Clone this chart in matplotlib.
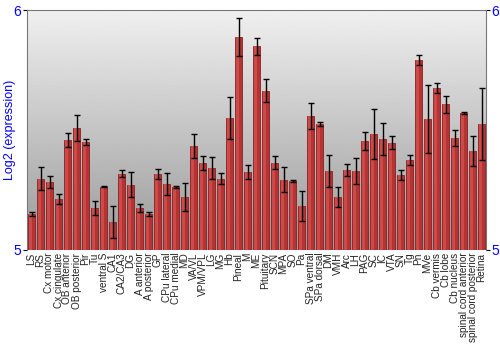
import numpy as np
import matplotlib.pyplot as plt

plt.rcParams['font.family'] = ['Liberation Sans', 'DejaVu Sans']

regions = ['LS', 'RS', 'Cx motor', 'Cx cingulate', 'OB anterior', 'OB posterior', 'Pir', 'Tu',
           'ventral S', 'CA1', 'CA2/CA3', 'DG', 'A anterior', 'A posterior', 'GP', 'CPu lateral',
           'CPu medial', 'MD', 'VA/VL', 'VPM/VPL', 'LG', 'MG', 'Hb', 'Pineal', 'M', 'ME',
           'Pituitary', 'SCN', 'MPA', 'SO', 'Pa', 'SPa ventral', 'SPa dorsal', 'DM', 'VMH', 'Arc',
           'LH', 'PAG', 'SC', 'IC', 'VTA', 'SN', 'Tg', 'Pn', 'MVe', 'Cb vermis', 'Cb lobe',
           'Cb nucleus', 'spinal cord anterior', 'spinal cord posterior', 'Retina']

expr = [5.150, 5.296, 5.283, 5.213, 5.458, 5.508, 5.450, 5.175, 5.263, 5.117, 5.317, 5.271,
        5.175, 5.150, 5.317, 5.275, 5.263, 5.221, 5.433, 5.363, 5.342, 5.296, 5.550, 5.888,
        5.325, 5.850, 5.663, 5.363, 5.292, 5.288, 5.183, 5.558, 5.525, 5.329, 5.221, 5.333,
        5.329, 5.454, 5.483, 5.463, 5.446, 5.313, 5.375, 5.792, 5.546, 5.675, 5.608, 5.467,
        5.571, 5.413, 5.525]

err = [0.010, 0.048, 0.025, 0.021, 0.029, 0.054, 0.013, 0.031, 0.002, 0.067, 0.015, 0.052,
       0.017, 0.010, 0.021, 0.044, 0.004, 0.058, 0.050, 0.029, 0.046, 0.023, 0.088, 0.081,
       0.029, 0.035, 0.048, 0.027, 0.052, 0.004, 0.063, 0.054, 0.010, 0.067, 0.042, 0.025,
       0.054, 0.038, 0.104, 0.067, 0.027, 0.021, 0.019, 0.021, 0.140, 0.021, 0.035, 0.033,
       0.006, 0.063, 0.152]

x = np.arange(len(regions))

fig = plt.figure(figsize=(5, 3.5), dpi=100)
ax = fig.add_axes([0.054, 0.286, 0.918, 0.685])

# grey gradient background
grad = np.linspace(0.94, 0.60, 256).reshape(-1, 1)
ax.imshow(grad, cmap='gray', vmin=0, vmax=1, aspect='auto',
          extent=[0, 1, 0, 1], transform=ax.transAxes, zorder=0)

ax.bar(x, np.array(expr) - 5, bottom=5, width=0.88, color='#b53333',
       edgecolor='#8a2020', linewidth=0.6, zorder=2)
# lighter strip for the shaded look
ax.bar(x - 0.12, np.array(expr) - 5, bottom=5, width=0.35, color='#cc4a4a',
       linewidth=0, zorder=3)
ax.errorbar(x, expr, yerr=err, fmt='none', ecolor='black', elinewidth=1,
            capsize=2, capthick=1, zorder=4)

ax.set_xlim(-0.5, len(regions) - 0.5)
ax.set_ylim(5, 6)
ax.set_yticks([5, 6])
ax.set_yticklabels(['5', '6'], color='blue', fontsize=10)
ax.tick_params(axis='y', which='both', left=True, right=True, labelleft=True,
               labelright=True, length=3, pad=1)
ax.set_xticks(x)
ax.set_xticklabels(regions, rotation=90, fontsize=7.2, color='#222222')
ax.tick_params(axis='x', length=0, pad=2)
ax.set_ylabel('Log2 (expression)', color='blue', fontsize=9)
ax.yaxis.set_label_coords(-0.024, 0.5)

for s in ax.spines.values():
    s.set_color('#777777')
ax.spines['bottom'].set_visible(False)

fig.savefig('out.png', dpi=100)
